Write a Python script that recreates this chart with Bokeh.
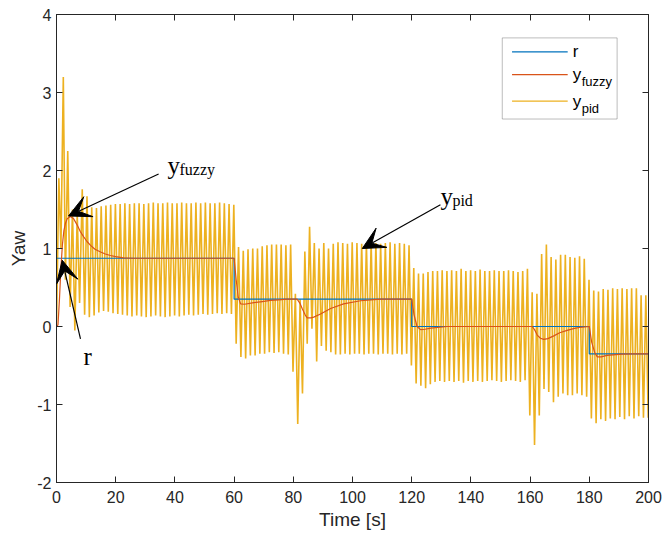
import numpy as np
from bokeh.plotting import figure
from bokeh.models import (Range1d, LinearAxis, FixedTicker, Label, Arrow, VeeHead,
                          BoxAnnotation)
from bokeh.embed import file_html
from bokeh.resources import INLINE

# ---------------- data ----------------
r_t = [0, 60, 60, 120, 120, 180, 180, 200]
r_y = [0.875, 0.875, 0.35, 0.35, 0.0, 0.0, -0.35, -0.35]

fuzzy_t = [0, 0.5, 1.0, 1.5, 2.0, 2.5, 3.0, 3.6, 4.7, 5.8, 7.0, 8.0, 9.2, 10.3, 11.5, 13.0, 14.9, 16.5, 18.2, 20.0, 22.6, 26.0,
           60.0, 60.7, 61.4, 62.2, 63.5, 66.7, 69.5, 72.3, 75.0, 78.0,
           81.3, 82.2, 83.0, 84.0, 84.7, 86.0, 86.9, 89.2, 92.6, 97.0, 102.7, 109.5,
           120.0, 120.8, 121.8, 123.0, 124.5, 126.4, 132.0,
           160.7, 161.5, 162.4, 163.5, 164.6, 166.0, 168.0, 170.0, 172.5, 175.0, 177.0,
           180.0, 180.8, 181.8, 182.7, 184.0, 186.0, 191.0, 195.0, 200.0]
fuzzy_y = [0.0, 0.02, 0.35, 0.75, 1.05, 1.23, 1.32, 1.38, 1.41, 1.38, 1.30, 1.22, 1.15, 1.09, 1.04, 0.99, 0.955, 0.93, 0.91, 0.895, 0.88, 0.875,
           0.875, 0.6, 0.38, 0.29, 0.285, 0.305, 0.32, 0.335, 0.342, 0.35,
           0.35, 0.30, 0.23, 0.15, 0.11, 0.11, 0.12, 0.16, 0.23, 0.29, 0.33, 0.35,
           0.35, 0.15, 0.0, -0.04, -0.035, -0.02, 0.0,
           0.0, -0.04, -0.11, -0.15, -0.165, -0.155, -0.12, -0.08, -0.05, -0.025, -0.01,
           0.0, -0.2, -0.33, -0.39, -0.39, -0.37, -0.355, -0.35, -0.35]

# y_pid: start-up transient, then one peak and one trough per oscillation cycle
pid_start_t = [0, 0.8, 1.5, 2.3, 3.0, 3.8, 4.6, 5.4, 6.2, 7.0, 7.8, 8.7, 9.5, 10.3, 11.1]
pid_start_y = [0, 1.9, 1.0, 3.2, 0.6, 2.25, 0.25, 1.5, -0.05, 1.45, 0.3, 1.76, 0.15, 1.67, 0.12]

pid_first_peak = 11.9   # s
pid_period = 1.6        # s

pid_peaks = [
    # 12 - 60 s
    1.53, 1.52, 1.54, 1.55, 1.56, 1.57, 1.57, 1.58, 1.57, 1.58, 1.58, 1.57, 1.58, 1.59, 1.58, 1.58,
    1.59, 1.58, 1.58, 1.59, 1.58, 1.58, 1.59, 1.58, 1.59, 1.58, 1.58, 1.59, 1.58, 1.57, 1.56,
    # 60 - 120 s
    1.02, 0.97, 0.99, 1.00, 1.00, 1.03, 1.04, 1.05, 1.05, 1.05, 1.04, 1.05,
    0.42, 0.35, 0.96, 1.28, 1.07, 1.00, 1.07, 1.00, 1.06,
    1.08, 1.07, 1.06, 1.08, 1.07, 1.06, 1.07, 1.08, 1.07, 1.06, 1.07, 1.08, 1.06, 1.07, 1.06, 1.04,
    # 120 - 180 s
    0.75, 0.68, 0.68, 0.70, 0.71,
    0.71, 0.72, 0.71, 0.72, 0.71, 0.74, 0.71, 0.72, 0.71, 0.73, 0.71, 0.71, 0.72, 0.71, 0.71, 0.72, 0.71, 0.70, 0.71,
    0.74, 0.44, 0.42, 0.93, 1.05, 0.89, 0.86, 0.92, 0.92, 0.89, 0.88, 0.90, 0.87,
    # 180 - 200 s
    0.60, 0.46, 0.45, 0.48, 0.47, 0.49, 0.48, 0.49, 0.48, 0.49, 0.49, 0.40, 0.40,
]
pid_troughs = [
    # 12 - 60 s
    0.14, 0.18, 0.20, 0.19, 0.17, 0.16, 0.15, 0.14, 0.13, 0.14, 0.13, 0.12, 0.13, 0.14, 0.13,
    0.12, 0.13, 0.14, 0.13, 0.14, 0.15, 0.14, 0.15, 0.16, 0.15, 0.16, 0.17, 0.16, 0.17, 0.16,
    # 60 - 120 s
    -0.22, -0.39, -0.41, -0.37, -0.37, -0.35, -0.35, -0.33, -0.34, -0.33, -0.35, -0.36,
    -0.58, -1.25, -0.86, -0.22, -0.03, -0.45, -0.25, -0.31, -0.33, -0.36,
    -0.36, -0.35, -0.36, -0.35, -0.35, -0.36, -0.35, -0.35, -0.36, -0.35, -0.35, -0.36, -0.35, -0.36, -0.35, -0.50,
    # 120 - 180 s
    -0.73, -0.76, -0.79, -0.74, -0.71,
    -0.70, -0.71, -0.70, -0.71, -0.70, -0.72, -0.70, -0.71, -0.70, -0.71, -0.70, -0.69, -0.70, -0.71, -0.70, -0.69, -0.70, -0.71, -0.69,
    -1.14, -1.52, -1.14, -0.80, -0.84, -0.97, -0.90, -0.86, -0.88, -0.88, -0.86, -0.88, -0.90,
    # 180 - 200 s
    -1.18, -1.24, -1.19, -1.21, -1.18, -1.19, -1.16, -1.19, -1.15, -1.18, -1.15, -1.17, -1.17,
]

x_ticks = [0, 20, 40, 60, 80, 100, 120, 140, 160, 180, 200]
y_ticks = [-2, -1, 0, 1, 2, 3, 4]
y_tick_labels = ["-2", "-1", "0", "1", "2", "3", "4"]

C_R = "#0072BD"
C_FZ = "#D95319"
C_PID = "#EDB120"
AX = "#262626"

# assemble the pid curve (peak, trough, peak, ...)
n = len(pid_peaks)
peak_t = pid_first_peak + pid_period * np.arange(n)
pid_t = list(pid_start_t)
pid_y = list(pid_start_y)
for k in range(n):
    pid_t += [peak_t[k], peak_t[k] + pid_period / 2]
    pid_y += [pid_peaks[k], pid_troughs[k]]

# ---------------- figure ----------------
p = figure(width=663, height=537, x_range=Range1d(0, 200), y_range=Range1d(-2, 4),
           output_backend="svg", toolbar_location=None,
           min_border_left=56, min_border_right=15, min_border_top=14, min_border_bottom=55)
p.background_fill_color = "white"
p.border_fill_color = "white"
p.outline_line_color = AX
p.xgrid.visible = False
p.ygrid.visible = False

FONT = "Liberation Sans"

def style_axis(ax, labels=True, ticks=None):
    ax.axis_line_color = AX
    ax.major_tick_line_color = AX
    ax.major_tick_in = 6
    ax.major_tick_out = 0
    ax.minor_tick_line_color = None
    ax.major_label_text_font = FONT
    ax.major_label_text_color = AX
    ax.major_label_text_font_size = "16px"
    if not labels:
        ax.major_label_overrides = {t: "" for t in ticks}
        ax.major_label_standoff = 0

p.xaxis.ticker = FixedTicker(ticks=x_ticks)
p.yaxis.ticker = FixedTicker(ticks=y_ticks)
style_axis(p.xaxis[0])
style_axis(p.yaxis[0])
p.yaxis.major_label_overrides = dict(zip(y_ticks, y_tick_labels))
p.xaxis.major_label_standoff = 8
p.yaxis.major_label_standoff = 5
p.xaxis.axis_label = "Time [s]"
p.yaxis.axis_label = "Yaw"
for ax in (p.xaxis[0], p.yaxis[0]):
    ax.axis_label_text_font = FONT
    ax.axis_label_text_font_style = "normal"
    ax.axis_label_text_font_size = "19px"
    ax.axis_label_text_color = AX
p.xaxis.axis_label_standoff = 3
p.yaxis.axis_label_standoff = 5

top_ax = LinearAxis(ticker=FixedTicker(ticks=x_ticks))
style_axis(top_ax, labels=False, ticks=x_ticks)
p.add_layout(top_ax, "above")
right_ax = LinearAxis(ticker=FixedTicker(ticks=y_ticks))
style_axis(right_ax, labels=False, ticks=y_ticks)
p.add_layout(right_ax, "right")

# ---------------- series ----------------
p.line(pid_t, pid_y, line_color=C_PID, line_width=1.6)
p.line(r_t, r_y, line_color=C_R, line_width=1.2)
p.line(fuzzy_t, fuzzy_y, line_color=C_FZ, line_width=1.2)

# ---------------- annotations ----------------
SERIF = "Liberation Serif"

def arrow(x0, y0, x1, y1):
    p.add_layout(Arrow(end=VeeHead(size=22, fill_color="black", line_color="black"),
                       x_start=x0, y_start=y0, x_end=x1, y_end=y1,
                       line_color="black", line_width=1.2))

arrow(34.5, 1.955, 4.05, 1.417)
arrow(8.1, -0.16, 1.93, 0.85)
arrow(129.7, 1.56, 103.3, 1.0)

def sub_label(x, y, main, sub, size_main, size_sub, font, dx, dy=-4, color="black"):
    p.add_layout(Label(x=x, y=y, text=main, text_font=font, text_font_size=size_main,
                       text_color=color, text_baseline="alphabetic", text_align="left"))
    p.add_layout(Label(x=x, y=y, x_offset=dx, y_offset=dy, text=sub, text_font=font,
                       text_font_size=size_sub, text_color=color,
                       text_baseline="alphabetic", text_align="left"))

sub_label(37.5, 2.06, "y", "fuzzy", "25px", "16px", SERIF, 12)
sub_label(129.7, 1.67, "y", "pid", "25px", "16px", SERIF, 12)
p.add_layout(Label(x=9.1, y=-0.39, text="r", text_font=SERIF, text_font_size="25px",
                   text_color="black", text_baseline="alphabetic"))

# ---------------- legend (drawn by hand for subscripts) ----------------
p.add_layout(BoxAnnotation(left=150.6, right=189.4, bottom=2.66, top=3.70,
                           fill_color="white", fill_alpha=1.0,
                           line_color=AX, line_width=1))
rows = [(3.52, C_R, "r", None), (3.23, C_FZ, "y", "fuzzy"), (2.89, C_PID, "y", "pid")]
for yy, col, main, sub in rows:
    p.add_layout(Arrow(end=None, x_start=153.9, y_start=yy, x_end=172.7, y_end=yy,
                       line_color=col, line_width=1.3))
    p.add_layout(Label(x=174.4, y=yy, text=main, text_font=FONT, text_font_size="17px",
                       text_color="black", text_baseline="middle"))
    if sub:
        p.add_layout(Label(x=174.4, y=yy, x_offset=9, y_offset=-7, text=sub, text_font=FONT,
                           text_font_size="13px", text_color="black", text_baseline="middle"))

open("out.html", "w").write(file_html(p, INLINE))
